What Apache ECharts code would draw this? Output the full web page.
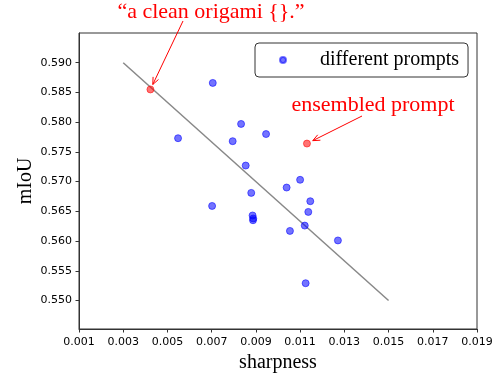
<!DOCTYPE html>
<html><head><meta charset="utf-8">
<script src="https://cdn.jsdelivr.net/npm/echarts@6/dist/echarts.min.js"></script>
<style>html,body{margin:0;padding:0;background:#fff}#c{width:496px;height:377px}</style>
</head><body><div id="c"></div>
<script>
const xTicks = [0.001, 0.003, 0.005, 0.007, 0.009, 0.011, 0.013, 0.015, 0.017, 0.019];
const yTicks = [0.550, 0.555, 0.560, 0.565, 0.570, 0.575, 0.580, 0.585, 0.590];
const promptX = [0.00833, 0.00548, 0.00795, 0.00946, 0.00854, 0.01100, 0.01039, 0.00879, 0.01146, 0.00702,
                 0.01137, 0.00885, 0.00888, 0.00887, 0.01121, 0.01054, 0.01271, 0.01125, 0.00705];
const promptY = [0.5797, 0.5773, 0.5768, 0.5780, 0.5727, 0.5703, 0.5690, 0.5681, 0.5667, 0.5659,
                 0.5649, 0.5643, 0.5638, 0.5635, 0.5626, 0.5617, 0.5601, 0.5529, 0.5866];
const origamiPoint = [0.00423, 0.5855];
const ensembledPoint = [0.01131, 0.5764];
const fitX = [0.003, 0.015];
const fitY = [0.590, 0.550];
const legendLabel = 'different prompts';
const origamiLabel = '\u201ca clean origami {}.\u201d';
const ensembledLabel = 'ensembled prompt';

const chart = echarts.init(document.getElementById('c'), null, {renderer: 'canvas'});
const serif = '"Liberation Serif", "Times New Roman", serif';
const sans = '"DejaVu Sans", sans-serif';
const blue = 'rgba(0,0,255,0.55)';
const red = 'rgba(255,0,0,0.55)';

chart.setOption({
  animation: false,
  backgroundColor: '#fff',
  grid: {left: 79, right: 19, top: 33, bottom: 48, show: true, borderColor: '#333', borderWidth: 1,
         containLabel: false, outerBoundsMode: 'none'},
  xAxis: {
    type: 'value', min: 0.001, max: 0.019, interval: 0.002,
    name: 'sharpness', nameLocation: 'middle', nameGap: 24, nameMoveOverlap: false,
    nameTextStyle: {fontFamily: serif, fontSize: 20, color: '#000'},
    axisLine: {show: true, lineStyle: {color: '#333', width: 1}},
    axisTick: {show: true, length: 3.5, lineStyle: {color: '#333'}, customValues: xTicks},
    axisLabel: {fontFamily: sans, fontSize: 11, color: '#000', margin: 8, customValues: xTicks,
                formatter: v => v.toFixed(3)},
    splitLine: {show: false}
  },
  yAxis: {
    type: 'value', min: 0.5452, max: 0.5950,
    name: 'mIoU', nameLocation: 'middle', nameGap: 43, nameRotate: 90, nameMoveOverlap: false,
    nameTextStyle: {fontFamily: serif, fontSize: 20, color: '#000'},
    axisLine: {show: true, lineStyle: {color: '#333', width: 1}},
    axisTick: {show: true, length: 3.5, lineStyle: {color: '#333'}, customValues: yTicks},
    axisLabel: {fontFamily: sans, fontSize: 11, color: '#000', margin: 7, customValues: yTicks,
                formatter: v => v.toFixed(3)},
    splitLine: {show: false}
  },
  legend: {
    show: true, data: [{name: legendLabel, icon: 'circle'}],
    left: 255, top: 43, orient: 'vertical',
    padding: [7, 9, 7, 24], itemWidth: 8, itemHeight: 6,
    borderColor: '#333', borderWidth: 1, borderRadius: 4, backgroundColor: '#fff',
    textStyle: {fontFamily: serif, fontSize: 20, color: '#000', padding: [0, 0, 0, 28]}
  },
  series: [
    {type: 'line', name: 'fit', data: fitX.map((x, i) => [x, fitY[i]]), symbol: 'none',
     lineStyle: {color: '#888', width: 1.5}, z: 1, silent: true},
    {type: 'scatter', name: legendLabel, data: promptX.map((x, i) => [x, promptY[i]]), symbolSize: 7,
     itemStyle: {color: blue, borderColor: blue, borderWidth: 1, opacity: 1}, z: 3},
    {type: 'scatter', name: 'highlight', data: [origamiPoint, ensembledPoint], symbolSize: 7,
     itemStyle: {color: red, borderColor: red, borderWidth: 1, opacity: 1}, z: 3}
  ]
});

function arrow(from, toPoint, gap) {
  const p = chart.convertToPixel({gridIndex: 0}, toPoint);
  const dx = from[0] - p[0], dy = from[1] - p[1];
  const L = Math.hypot(dx, dy);
  const ux = dx / L, uy = dy / L;
  const tip = [p[0] + ux * gap, p[1] + uy * gap];
  const hl = 7, hw = 3;
  const bx = tip[0] + ux * hl, by = tip[1] + uy * hl;
  const h1 = [bx - uy * hw, by + ux * hw];
  const h2 = [bx + uy * hw, by - ux * hw];
  return [
    {type: 'line', shape: {x1: from[0], y1: from[1], x2: tip[0], y2: tip[1]}, style: {stroke: '#f00', lineWidth: 1}, z: 10},
    {type: 'polyline', shape: {points: [h1, tip, h2]}, style: {stroke: '#f00', lineWidth: 1, fill: null}, z: 10}
  ];
}

chart.setOption({
  graphic: [
    {type: 'text', x: 211, y: 12, z: 10, style: {text: origamiLabel, fill: '#f00', font: '22px ' + serif, align: 'center', verticalAlign: 'middle'}},
    {type: 'text', x: 373, y: 105, z: 10, style: {text: ensembledLabel, fill: '#f00', font: '22px ' + serif, align: 'center', verticalAlign: 'middle'}},
    ...arrow([183, 21], origamiPoint, 5.5),
    ...arrow([362, 116], ensembledPoint, 6.5)
  ]
});
</script></body></html>
